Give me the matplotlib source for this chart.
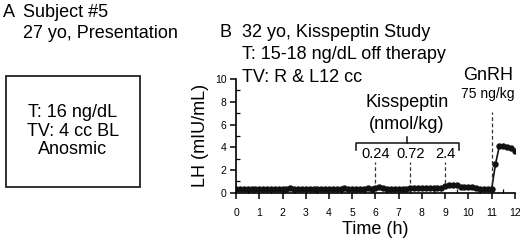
import numpy as np
import matplotlib.pyplot as plt
from matplotlib.ticker import MultipleLocator

plt.rcParams['font.family'] = ['Liberation Sans', 'DejaVu Sans']

# LH sampled every 10 min from 0 to 12 h
time_h = np.arange(73) / 6.0
lh = [0.35, 0.35, 0.35, 0.35, 0.35, 0.35,
      0.35, 0.35, 0.35, 0.3, 0.3, 0.3,
      0.3, 0.3, 0.4, 0.3, 0.3, 0.3,
      0.3, 0.3, 0.3, 0.3, 0.3, 0.3,
      0.3, 0.3, 0.3, 0.35, 0.4, 0.35,
      0.35, 0.35, 0.35, 0.35, 0.4, 0.35,
      0.45, 0.5, 0.45, 0.35, 0.3, 0.3,
      0.3, 0.3, 0.3, 0.4, 0.4, 0.4,
      0.4, 0.4, 0.4, 0.4, 0.45, 0.45,
      0.6, 0.7, 0.7, 0.65, 0.55, 0.5,
      0.5, 0.5, 0.45, 0.35, 0.3, 0.3,
      0.3, 2.5, 4.1, 4.1, 4.0, 3.9,
      3.65]

dose_times = [6, 7.5, 9]
dose_labels = ['0.24', '0.72', '2.4']
gnrh_time = 11

fig = plt.figure(figsize=(5.2, 2.41), dpi=100)
big = 13

# panel A text
fig.text(0.006, 0.95, 'A', fontsize=big, va='center')
fig.text(0.044, 0.95, 'Subject #5', fontsize=big, va='center')
fig.text(0.044, 0.863, '27 yo, Presentation', fontsize=big, va='center')
box = plt.Rectangle((0.012, 0.224), 0.257, 0.46, transform=fig.transFigure,
                    fill=False, edgecolor='#222222', linewidth=1.3)
fig.add_artist(box)
fig.text(0.14, 0.455, 'T: 16 ng/dL\nTV: 4 cc BL\nAnosmic', fontsize=big,
         ha='center', va='center', linespacing=1.12)

# panel B text
fig.text(0.423, 0.867, 'B', fontsize=big, va='center')
fig.text(0.465, 0.867, '32 yo, Kisspeptin Study', fontsize=big, va='center')
fig.text(0.465, 0.772, 'T: 15-18 ng/dL off therapy', fontsize=big, va='center')
fig.text(0.465, 0.677, 'TV: R & L12 cc', fontsize=big, va='center')

ax = fig.add_axes([0.454, 0.2, 0.536, 0.472])
ax.plot(time_h, lh, color='#111111', marker='o', markersize=3.6, linewidth=1.2)
ax.set_xlim(0, 12)
ax.set_ylim(0, 10)
ax.spines['top'].set_visible(False)
ax.spines['right'].set_visible(False)
ax.spines['left'].set_linewidth(1.2)
ax.spines['bottom'].set_linewidth(1.2)
ax.xaxis.set_major_locator(MultipleLocator(1))
ax.xaxis.set_minor_locator(MultipleLocator(0.5))
ax.yaxis.set_major_locator(MultipleLocator(2))
ax.yaxis.set_minor_locator(MultipleLocator(1))
ax.tick_params(which='major', direction='out', length=4, width=1.1, labelsize=7.5, pad=3)
ax.tick_params(axis='x', which='major', pad=7)
ax.tick_params(which='minor', direction='in', length=3, width=0.9)
ax.set_xlabel('Time (h)', fontsize=big, labelpad=2)
ax.set_ylabel('LH (mIU/mL)', fontsize=big, labelpad=4)
ax.patch.set_alpha(0)

# kisspeptin doses
for t, lab in zip(dose_times, dose_labels):
    ax.plot([t, t], [0.9, 2.7], color='#333333', linestyle=(0, (3, 2)), linewidth=0.9)
    ax.text(t, 3.4, lab, fontsize=10.5, ha='center', va='center')
ax.plot([5.15, 5.15, 9.6, 9.6], [3.8, 4.4, 4.4, 3.8], color='#111111', linewidth=1.1)
ax.plot([7.35, 7.35], [4.4, 4.9], color='#111111', linewidth=1.1)
ax.text(7.35, 7.9, 'Kisspeptin', fontsize=big, ha='center', va='center')
ax.text(7.35, 6.0, '(nmol/kg)', fontsize=big, ha='center', va='center')

# GnRH
ax.plot([gnrh_time, gnrh_time], [0.9, 7.1], color='#333333', linestyle=(0, (3, 2)), linewidth=0.9)
ax.text(10.85, 10.3, 'GnRH', fontsize=big, ha='center', va='center', clip_on=False)
ax.text(10.85, 8.7, '75 ng/kg', fontsize=10, ha='center', va='center')

fig.savefig('out.png', dpi=100)
